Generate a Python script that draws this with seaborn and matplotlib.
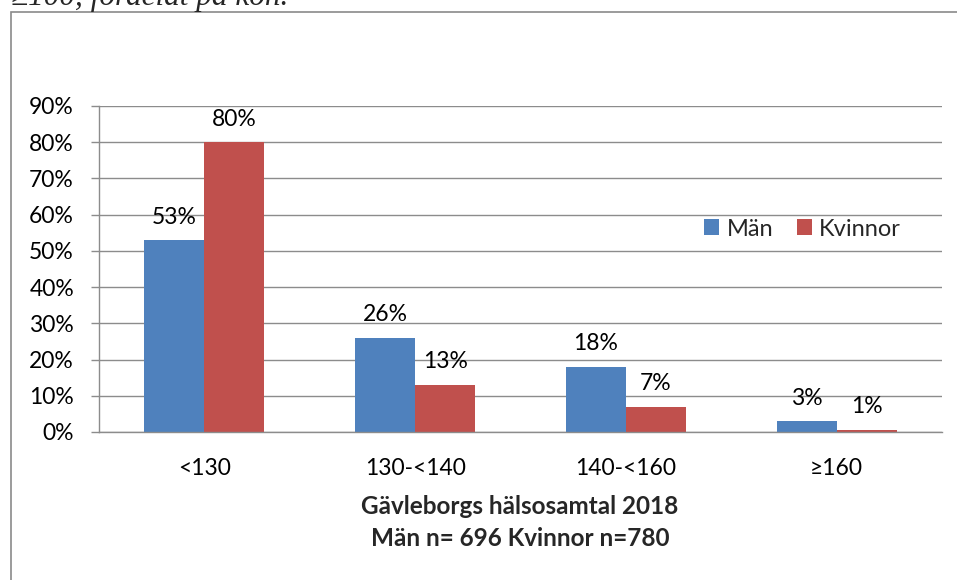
import matplotlib
matplotlib.use("Agg")
import matplotlib.pyplot as plt
from matplotlib.patches import Rectangle, Patch
import seaborn as sns
import pandas as pd

# Blood pressure groups (systolic, mmHg) and share of participants per sex
categories = ["<130", "130-<140", "140-<160", "≥160"]
man_values = [53, 26, 18, 3]
kvinnor_values = [80, 13, 7, 0.6]
series_names = ["Män", "Kvinnor"]
y_ticks = [0, 10, 20, 30, 40, 50, 60, 70, 80, 90]
title_lines = ["Gävleborgs hälsosamtal 2018", "Män n= 696 Kvinnor n=780"]
caption = "≥100, fördelat på kön."

colors = {"Män": "#4F81BD", "Kvinnor": "#C0504D"}
grid_color = "#8C8C8C"

df = pd.DataFrame({
    "grupp": categories * 2,
    "kön": [series_names[0]] * len(categories) + [series_names[1]] * len(categories),
    "andel": man_values + kvinnor_values,
})

sns.set_theme(style="white")
plt.rcParams["font.family"] = ["Lato", "DejaVu Sans"]

W, H = 957, 580
fig = plt.figure(figsize=(W / 100, H / 100), dpi=100)
ax = fig.add_axes([99 / W, 1 - 432 / H, (942 - 99) / W, (432 - 106) / H])

sns.barplot(data=df, x="grupp", y="andel", hue="kön", order=categories,
            hue_order=series_names, palette=colors, width=0.57, gap=0,
            saturation=1, edgecolor="none", linewidth=0, legend=False, ax=ax)

ax.set_ylim(0, 90)
ax.set_yticks(y_ticks)
ax.set_yticklabels([f"{t}%" for t in y_ticks])
ax.yaxis.grid(True, color=grid_color, linewidth=1.0)
ax.set_axisbelow(True)
for side in ["top", "right"]:
    ax.spines[side].set_visible(False)
for side in ["left", "bottom"]:
    ax.spines[side].set_color(grid_color)
    ax.spines[side].set_linewidth(1.0)
ax.tick_params(axis="y", which="major", left=True, length=6, width=1.0,
               color=grid_color, pad=12, labelsize=16.5, labelcolor="black")
ax.tick_params(axis="x", bottom=False, pad=13, labelsize=16.5, labelcolor="black")
ax.set_xlabel("")
ax.set_ylabel("")

# Value labels above each bar
for cont, vals in zip(ax.containers, [man_values, kvinnor_values]):
    ax.bar_label(cont, labels=[f"{v:.0f}%" for v in vals], padding=9,
                 fontsize=16.5, color="black")

# Legend
handles = [Patch(facecolor=colors[n], edgecolor="none") for n in series_names]
fig.legend(handles, series_names, loc="center left",
           bbox_to_anchor=(704 / W, 1 - 229 / H), ncol=2, frameon=False,
           fontsize=17, handlelength=0.65, handleheight=0.65,
           handletextpad=0.3, columnspacing=1.0, borderpad=0, borderaxespad=0)

# Axis title below the categories
fig.text(520 / W, 1 - 507 / H, title_lines[0], ha="center", va="center",
         fontsize=17.5, fontweight="bold")
fig.text(520 / W, 1 - 539 / H, title_lines[1], ha="center", va="center",
         fontsize=17.5, fontweight="bold")

# Chart frame
fig.patches.append(Rectangle((11 / W, -0.2), 1.2, 1.2 - 12 / H, fill=False,
                             edgecolor="#8A8A8A", linewidth=1.2,
                             transform=fig.transFigure, figure=fig))

# Caption line from the surrounding document
fig.text(11 / W, 1 - 5 / H, caption, ha="left", va="baseline", fontsize=22.5,
         fontstyle="italic", family=["Liberation Serif", "DejaVu Serif"])

fig.savefig("out.png", dpi=100)
